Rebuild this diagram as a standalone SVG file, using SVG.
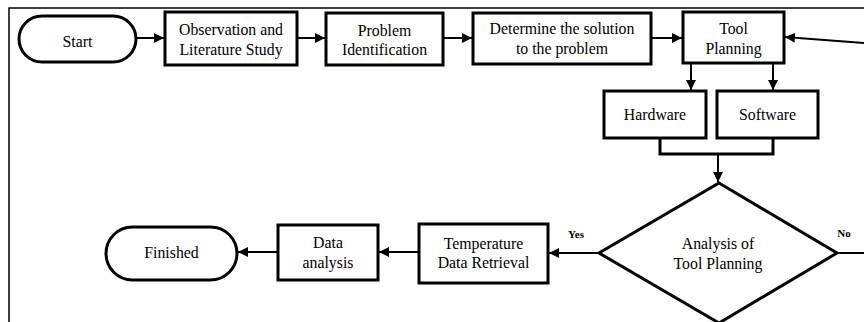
<svg xmlns="http://www.w3.org/2000/svg" width="864" height="322" viewBox="0 0 864 322">
  <style>
    .box { fill: #fff; stroke: #000; stroke-width: 3; }
    .lbl { font-family: 'Liberation Serif', serif; font-size: 15.8px; fill: #000; text-anchor: middle; }
    .tag { font-family: 'Liberation Serif', serif; font-size: 11px; font-weight: bold; fill: #000; text-anchor: middle; }
    .ln { fill: none; stroke: #000; stroke-width: 2; }
    .frame { fill: none; stroke: #000; stroke-width: 1.5; }
  </style>
  <defs>
    <marker id="arr" viewBox="0 0 10 10" refX="10" refY="5" markerWidth="5" markerHeight="5" orient="auto" markerUnits="strokeWidth">
      <path d="M0,0 L10,5 L0,10 z" fill="#000"/>
    </marker>
  </defs>
  <rect width="864" height="322" fill="#fff"/>

  <!-- outer frame -->
  <path class="frame" d="M9,322 V8 H864"/>

  <!-- connectors -->
  <g id="connectors">
    <line class="ln" x1="136" y1="38" x2="164" y2="38" marker-end="url(#arr)"/>
    <line class="ln" x1="298" y1="38" x2="325" y2="38" marker-end="url(#arr)"/>
    <line class="ln" x1="444" y1="38" x2="472" y2="38" marker-end="url(#arr)"/>
    <line class="ln" x1="652" y1="38" x2="682" y2="38" marker-end="url(#arr)"/>
    <line class="ln" x1="864" y1="43" x2="785" y2="37" marker-end="url(#arr)"/>
    <line class="ln" x1="691" y1="64" x2="691" y2="90" marker-end="url(#arr)"/>
    <line class="ln" x1="773" y1="64" x2="773" y2="90" marker-end="url(#arr)"/>
    <path class="ln" d="M660,139 V154 H773 V139" style="stroke-width:3"/>
    <line class="ln" x1="718" y1="154" x2="718" y2="182" marker-end="url(#arr)"/>
    <line class="ln" x1="599" y1="253" x2="549" y2="253" marker-end="url(#arr)"/>
    <line class="ln" x1="419" y1="252" x2="379" y2="252" marker-end="url(#arr)"/>
    <line class="ln" x1="278" y1="252" x2="238" y2="252" marker-end="url(#arr)"/>
    <line class="ln" x1="837" y1="253" x2="864" y2="253"/>
    <text class="tag" x="576" y="238">Yes</text>
    <text class="tag" x="844" y="237">No</text>
  </g>

  <g id="start">
    <rect class="box" x="19" y="16" width="117" height="46" rx="23"/>
    <text class="lbl" x="77.5" y="46.5">Start</text>
  </g>
  <g id="observation">
    <rect class="box" x="165" y="12" width="132" height="53"/>
    <text class="lbl" x="231" y="35">Observation and</text>
    <text class="lbl" x="231" y="55">Literature Study</text>
  </g>
  <g id="problem">
    <rect class="box" x="326" y="13" width="117" height="52"/>
    <text class="lbl" x="384.5" y="35.5">Problem</text>
    <text class="lbl" x="384.5" y="55">Identification</text>
  </g>
  <g id="solution">
    <rect class="box" x="473" y="13" width="178" height="51"/>
    <text class="lbl" x="562" y="34">Determine the solution</text>
    <text class="lbl" x="562" y="54">to the problem</text>
  </g>
  <g id="tool-planning">
    <rect class="box" x="683" y="12" width="101" height="51"/>
    <text class="lbl" x="733.5" y="34">Tool</text>
    <text class="lbl" x="733.5" y="53.5">Planning</text>
  </g>
  <g id="hardware">
    <rect class="box" x="604" y="91" width="102" height="47"/>
    <text class="lbl" x="655" y="120">Hardware</text>
  </g>
  <g id="software">
    <rect class="box" x="717" y="91" width="101" height="47"/>
    <text class="lbl" x="767.5" y="120">Software</text>
  </g>
  <g id="analysis">
    <polygon class="box" points="719,183 837,253 719,323 599,253"/>
    <text class="lbl" x="718" y="249">Analysis of</text>
    <text class="lbl" x="718" y="269">Tool Planning</text>
  </g>
  <g id="retrieval">
    <rect class="box" x="419" y="224" width="129" height="59"/>
    <text class="lbl" x="483.5" y="249">Temperature</text>
    <text class="lbl" x="483.5" y="268">Data Retrieval</text>
  </g>
  <g id="data-analysis">
    <rect class="box" x="278" y="225" width="100" height="55"/>
    <text class="lbl" x="328" y="248">Data</text>
    <text class="lbl" x="328" y="268">analysis</text>
  </g>
  <g id="finished">
    <rect class="box" x="106" y="227" width="131" height="53" rx="26.5"/>
    <text class="lbl" x="171.5" y="258">Finished</text>
  </g>
</svg>
